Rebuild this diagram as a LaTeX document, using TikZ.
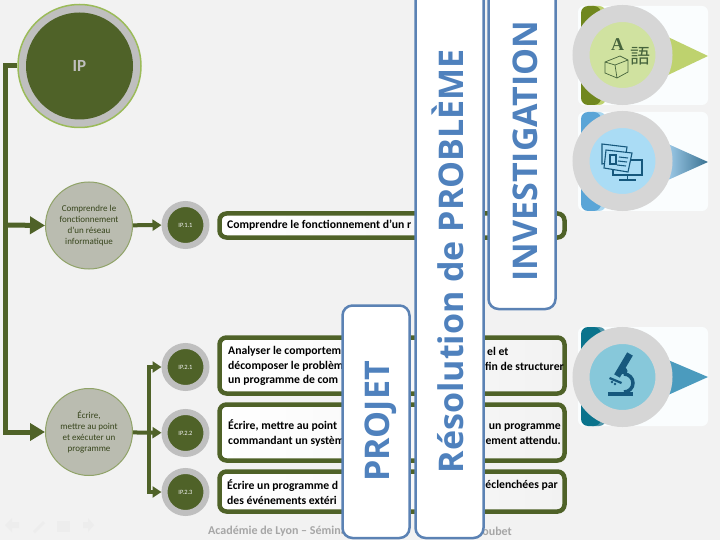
\documentclass[tikz,border=0pt]{standalone}
\usepackage{fontspec}
\setmainfont{Carlito}
\newfontfamily\cjkfont{Noto Sans CJK JP}
\newfontfamily\wordfont{Open Sans}
\newfontfamily\letterfont{Liberation Serif}
\usetikzlibrary{arrows.meta, positioning, calc}
\definecolor{ipOlive}{RGB}{79,98,40}
\definecolor{ipRim}{RGB}{155,187,89}
\definecolor{ipGray}{RGB}{191,191,191}
\definecolor{ipSage}{RGB}{186,188,176}
\definecolor{ipPage}{RGB}{242,242,242}
\definecolor{ipBlue}{RGB}{91,130,180}
\definecolor{ipWord}{RGB}{79,129,189}
\definecolor{ipPanel}{RGB}{250,253,254}
\definecolor{ipRing}{RGB}{214,214,214}
\definecolor{ipIconGreen}{RGB}{70,100,60}
\definecolor{ipIconBlue}{RGB}{22,88,125}
\definecolor{ipTabOne}{RGB}{112,135,30}
\definecolor{ipTabOneLight}{RGB}{190,210,110}
\definecolor{ipTabTwo}{RGB}{90,165,215}
\definecolor{ipTabTwoLight}{RGB}{170,215,240}
\definecolor{ipTabThree}{RGB}{10,115,140}
\definecolor{ipTabThreeLight}{RGB}{80,150,170}
\definecolor{ipPointThree}{RGB}{75,155,190}
\definecolor{ipFaceOne}{RGB}{208,226,160}
\definecolor{ipFaceTwo}{RGB}{170,220,245}
\definecolor{ipFaceThree}{RGB}{135,200,218}
\tikzset{
    schema/.style={x=1pt, y=-1pt, line cap=butt, line join=miter},
    mainnode/.style={circle, draw=ipRim!60!gray, line width=1pt, fill=ipSage, minimum size=87pt,
                     inner sep=0pt, align=center, font=\fontsize{9}{11}\selectfont, text=ipOlive!70!black},
    codenode/.style={circle, draw=ipGray, line width=6pt, fill=ipOlive, minimum size=42pt,
                     inner sep=0pt, font=\fontsize{6.5}{7}\selectfont, text=ipPage},
    textbox/.style={draw=ipOlive, line width=4.5pt, rounded corners=7pt, left color=white, right color=ipPage},
    boxtext/.style={inner sep=0pt, align=left, anchor=west, font=\fontsize{11.7}{14.5}\selectfont\bfseries},
    endtext/.style={boxtext, align=right, anchor=east},
    wordbox/.style={draw=ipBlue, line width=2.5pt, rounded corners=10pt, fill=white},
    bigword/.style={rotate=90, inner sep=0pt, anchor=base, text=ipWord, font=\wordfont\bfseries\fontsize{34}{34}\selectfont},
    thick line/.style={draw=ipOlive, line width=5pt},
    arrow/.style={draw=ipOlive, line width=4pt, -{Triangle[length=9pt, width=11pt]}},
    bigarrow/.style={draw=ipOlive, line width=5pt, -{Triangle[length=15pt, width=17pt]}},
    ringnode/.style={circle, draw=ipRing, line width=17pt, minimum size=83pt, inner sep=0pt},
    panel/.style={fill=ipPanel, rounded corners=6pt},
    tab/.style={rounded corners=7pt},
    footer/.style={inner sep=0pt, text=black!35, font=\fontsize{12}{14}\selectfont\bfseries},
    navicon/.style={fill=black!7, draw=none},
}
\begin{document}
\begin{tikzpicture}[schema]
\useasboundingbox (0,0) rectangle (720,540);
\fill[ipPage] (0,0) rectangle (720,540);

% --- panels on the right ---
\fill[panel] (578,6) rectangle (708,105);
\fill[panel] (578,112) rectangle (708,211);
\fill[panel] (578,327) rectangle (708,426);
\fill[ipTabOneLight, tab] (585,6) rectangle (606,105);
\fill[ipTabOne, tab] (581,6) rectangle (601,105);
\fill[ipTabTwoLight, tab] (585,112) rectangle (606,211);
\fill[ipTabTwo, tab] (581,112) rectangle (601,211);
\fill[ipTabThreeLight, tab] (585,327) rectangle (606,426);
\fill[ipTabThree, tab] (581,327) rectangle (601,426);
\fill[ipTabOneLight] (668,37) -- (708,56) -- (668,75) -- cycle;
\shade[left color=ipTabTwo!60!white, right color=ipIconBlue!85!white] (668,144) -- (708,162) -- (668,180) -- cycle;
\fill[ipPointThree] (668,360) -- (708,377) -- (668,395) -- cycle;

\node[ringnode, fill=ipFaceOne] (langue) at (622.5,55) {};
\node[ringnode, fill=ipFaceTwo] (ecran) at (622.5,161) {};
\node[ringnode, fill=ipFaceThree] (micro) at (622.5,377) {};

% --- main tree ---
\node[circle, draw=ipRim, line width=1.5pt, fill=ipGray, minimum size=123pt, inner sep=0pt] (ip) at (79.5,66) {};
\fill[ipOlive] (ip.center) circle (53.5);
\node[text=ipGray, font=\fontsize{17}{17}\selectfont\bfseries] (iptext) at (ip.center) {IP};

\node[mainnode] (reseau) at (89,225.5) {Comprendre le\\fonctionnement\\d'un réseau\\informatique};
\node[mainnode] (programme) at (89,432) {Écrire,\\mettre au point\\et exécuter un\\programme};

\node[codenode] (c11) at (185.5,225) {IP.1.1};
\node[codenode] (c21) at (185.5,367) {IP.2.1};
\node[codenode] (c22) at (185.5,433) {IP.2.2};
\node[codenode] (c23) at (185.5,492) {IP.2.3};

\draw[thick line] (ip.west) -- (5,66) -- (5,434.5);
\coordinate (start1) at (5,225);
\coordinate (start2) at (5,432);
\draw[bigarrow] (start1) -- (reseau.west);
\draw[bigarrow] (start2) -- (programme.west);
\draw[arrow] (reseau) -- (c11);
\draw[arrow] (programme) -- (c22);
\coordinate (fork) at (149,432);
\draw[arrow] (fork) |- (c21);
\draw[arrow] (fork) |- (c23);

% --- text boxes ---
\draw[textbox] (219.5,213.5) rectangle (564.5,237.5);
\draw[textbox] (219.5,337.5) rectangle (564.5,393.5);
\draw[textbox] (219.5,404.5) rectangle (564.5,460.5);
\draw[textbox] (219.5,471.5) rectangle (564.5,511.5);

\node[boxtext] (t11) at (227,225) {Comprendre le fonctionnement d'un r};
\node[boxtext] (t21) at (228,366) {Analyser le comportem\\décomposer le problèm\\un programme de com};
\node[boxtext] (t22) at (228,433) {Écrire, mettre au point\\commandant un systèm};
\node[boxtext] (t23) at (227,492) {Écrire un programme d\\des événements extéri};
\node[boxtext] (t21a) at (487,351.5) {el et};
\node[endtext] (t21b) at (564,366) {fin de structurer};
\node[endtext] (t22b) at (561,434) {un programme\\ement attendu.};
\node[endtext] (t23b) at (558,485) {éclenchées par};

% --- footer ---
\node[footer, anchor=west] (acad) at (208,531) {Académie de Lyon – Sémina};
\node[footer, anchor=east] (oubet) at (512,531) {oubet};
\fill[navicon] (5,525) -- (12,518) -- (12,522) -- (19,522) -- (19,528) -- (12,528) -- (12,532) -- cycle;
\fill[navicon] (33,531) -- (43,521) -- (45,523) -- (35,533) -- cycle;
\fill[navicon] (57,521) rectangle (70,532);
\fill[navicon] (94,525) -- (88,518) -- (88,522) -- (83,522) -- (83,528) -- (88,528) -- (88,532) -- cycle;

% --- blue word boxes ---
\draw[wordbox] (342.5,305.5) rectangle (409.5,538);
\node[bigword] (projet) at (389,421.5) {PROJET};
\draw[wordbox] (415.5,-20) rectangle (483.5,538);
\node[bigword] (resolution) at (463,261) {Résolution de PROBLÈME};
\draw[wordbox] (488.5,-20) rectangle (555.5,309);
\node[bigword] (investigation) at (537,151) {INVESTIGATION};

% --- icons ---
\node[text=ipIconGreen, font=\letterfont\fontsize{18}{18}\selectfont\bfseries] (lettre) at (617.5,45) {A};
\node[text=ipIconGreen, font=\cjkfont\fontsize{20}{20}\selectfont] (kanji) at (640,56) {語};
\draw[ipIconGreen, line width=.7pt] (605,62) -- (620,56) -- (628,60) -- (628,72) -- (617,78) -- (605,73) -- cycle
    (605,62) -- (615,65) -- (628,60) (615,65) -- (617,78);
\begin{scope}[draw=ipIconBlue, line width=1.1pt]
\draw (613,160) rectangle (642,175);
\draw[fill=ipFaceTwo] (602,144) -- (627,147) -- (625,160) -- (602,164) -- cycle;
\draw[fill=ipFaceTwo] (606,150) -- (632,153) -- (628,172) -- (604,168) -- cycle;
\draw (610,155) rectangle (616,164);
\draw (619,157) -- (628,158) (618,161) -- (627,162) (617,165) -- (626,166);
\draw (627.5,175) -- (627.5,180) (619,180) -- (636,180);
\end{scope}
\begin{scope}[ipIconBlue]
\fill (608,392) rectangle (633,396);
\draw[line width=3.5pt] (624,374) arc[start angle=-90, end angle=90, radius=9];
\draw[line width=6.5pt] (630,354) -- (617,376);
\fill (610,377) -- (622,382) -- (621,384) -- (609,379) -- cycle;
\fill (612,382) circle (1.3) (615,384) circle (1.3);
\fill (624,371) circle (3.5);
\end{scope}
\end{tikzpicture}
\end{document}
